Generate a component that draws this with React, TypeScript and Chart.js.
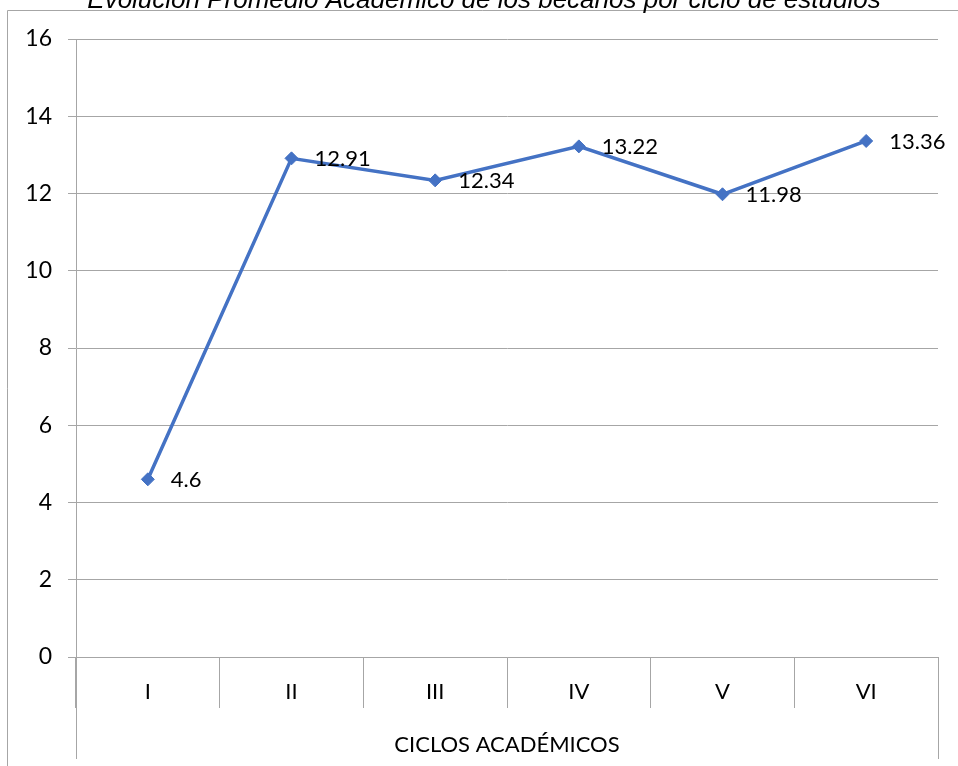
import React, { useEffect, useRef } from "react";
import { Chart, registerables } from "chart.js";

Chart.register(...registerables);

const TITLE = "Evolución Promedio Académico de los becarios por ciclo de estudios";
const X_TITLE = "CICLOS ACADÉMICOS";
const CATEGORIES = ["I", "II", "III", "IV", "V", "VI"];
const PROMEDIOS = [4.6, 12.91, 12.34, 13.22, 11.98, 13.36];
const Y_MIN = 0;
const Y_MAX = 16;
const Y_STEP = 2;

const GRID = "#A6A6A6";
const LINE = "#4472C4";
const FONT = "Lato, 'Open Sans', sans-serif";

export default function App() {
  const ref = useRef<HTMLCanvasElement | null>(null);

  useEffect(() => {
    if (!ref.current) return;

    const decor = {
      id: "decor",
      beforeDraw(chart: any) {
        const ctx = chart.ctx;
        ctx.save();
        ctx.fillStyle = "#fff";
        ctx.fillRect(0, 0, chart.width, chart.height);
        ctx.strokeStyle = GRID;
        ctx.lineWidth = 1;
        ctx.beginPath();
        ctx.moveTo(7.5, chart.height);
        ctx.lineTo(7.5, 10.5);
        ctx.lineTo(chart.width, 10.5);
        ctx.stroke();
        ctx.fillStyle = "#000";
        ctx.font = "italic 26px 'Liberation Sans', Arial, sans-serif";
        ctx.textAlign = "center";
        ctx.textBaseline = "alphabetic";
        ctx.fillText(TITLE, 484, 8);
        ctx.restore();
      },
      afterDraw(chart: any) {
        const ctx = chart.ctx;
        const a = chart.chartArea;
        ctx.save();
        ctx.strokeStyle = GRID;
        ctx.lineWidth = 1;
        ctx.beginPath();
        const l = Math.round(a.left) + 0.5;
        const r = Math.round(a.right) + 0.5;
        ctx.moveTo(l, a.bottom);
        ctx.lineTo(l, a.bottom + 102);
        ctx.moveTo(r, a.bottom);
        ctx.lineTo(r, a.bottom + 102);
        ctx.stroke();
        // data labels
        const meta = chart.getDatasetMeta(0);
        ctx.fillStyle = "#000";
        ctx.font = "22px " + FONT;
        ctx.textAlign = "left";
        ctx.textBaseline = "middle";
        meta.data.forEach((p: any, i: number) => {
          ctx.fillText(String(PROMEDIOS[i]), p.x + 23, p.y + 1);
        });
        ctx.restore();
      },
    };

    const chart = new Chart(ref.current, {
      type: "line",
      data: {
        labels: CATEGORIES,
        datasets: [
          {
            data: PROMEDIOS,
            borderColor: LINE,
            backgroundColor: LINE,
            borderWidth: 3.5,
            pointStyle: "rectRot",
            pointRadius: 6.5,
            pointBorderWidth: 1,
            pointBackgroundColor: LINE,
            pointBorderColor: LINE,
            tension: 0,
          },
        ],
      },
      options: {
        animation: false,
        responsive: false,
        maintainAspectRatio: false,
        layout: { padding: { left: 0, top: 39, right: 20, bottom: 0 } },
        plugins: {
          legend: { display: false },
          tooltip: { enabled: false },
          title: { display: false },
        },
        scales: {
          x: {
            type: "category",
            offset: true,
            grid: {
              offset: true,
              drawOnChartArea: false,
              drawTicks: true,
              tickLength: 51,
              color: GRID,
              lineWidth: 1,
            },
            border: { display: true, color: GRID },
            ticks: {
              color: "#000",
              font: { family: FONT, size: 22 },
              padding: -29,
              maxRotation: 0,
            },
            title: {
              display: true,
              text: X_TITLE,
              color: "#000",
              font: { family: FONT, size: 22 },
              padding: { top: 0, bottom: 8 },
            },
            afterFit(scale: any) {
              scale.height = 109;
            },
          },
          y: {
            min: Y_MIN,
            max: Y_MAX,
            ticks: {
              stepSize: Y_STEP,
              color: "#000",
              font: { family: FONT, size: 23 },
              padding: 16,
            },
            grid: {
              color: GRID,
              lineWidth: 1,
              drawTicks: true,
              tickLength: 8,
            },
            border: { display: true, color: GRID },
            afterFit(scale: any) {
              scale.width = 76;
            },
          },
        },
      },
      plugins: [decor],
    });

    return () => chart.destroy();
  }, []);

  return (
    <div style={{ position: "fixed", left: 0, top: 0, width: 958, height: 766, background: "#fff" }}>
      <canvas ref={ref} width={958} height={766} style={{ display: "block", width: 958, height: 766 }} />
    </div>
  );
}
